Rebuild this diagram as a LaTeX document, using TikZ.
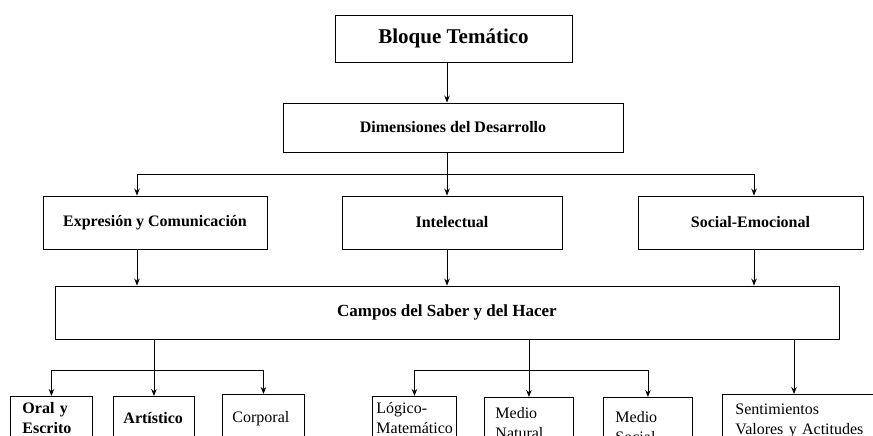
\documentclass[tikz,border=0pt]{standalone}
\usepackage{fontspec}
\setmainfont{Liberation Serif}
\usetikzlibrary{positioning,arrows.meta}

\begin{document}
\begin{tikzpicture}[x=1pt,y=-1pt,line width=0.9pt,
  >={Stealth[length=7pt,width=5.5pt]},
  box/.style={draw,inner sep=0pt,align=center,font=\bfseries\fontsize{16}{19}\selectfont},
  leaf/.style={draw,anchor=north west,align=left,inner xsep=10pt,text height=11pt,font=\fontsize{16}{20}\selectfont}]

\useasboundingbox (0,0) rectangle (873,436);
\clip (0,0) rectangle (873,436);

\node (1) [box,minimum width=237pt,minimum height=47pt,font=\bfseries\fontsize{21}{25}\selectfont] at (453.5,38.5) {Bloque Temático};
\node (2) [box,minimum width=340pt,minimum height=49pt] at (453,127.5) {Dimensiones del Desarrollo};

\node (3) [box,minimum width=224pt,minimum height=53pt] at (155,222.5) {Expresión y Comunicación};
\node (4) [box,minimum width=220pt,minimum height=53pt] at (452,222.5) {Intelectual};
\node (5) [box,minimum width=225pt,minimum height=53pt] at (750.5,222.5) {Social-Emocional};

\node (6) [box,minimum width=784pt,minimum height=53pt,font=\bfseries\fontsize{17}{20}\selectfont] at (447,312.5) {Campos del Saber y del Hacer};

\node (7) [leaf,text width=58pt,inner xsep=12pt,inner ysep=6pt,font=\bfseries\fontsize{16}{20}\selectfont] at (10,396) {Oral y\\Escrito};
\node (8) [leaf,text width=61pt,inner ysep=16pt,font=\bfseries\fontsize{16}{20}\selectfont] at (113,396) {Artístico};
\node (9) [leaf,text width=62pt,inner ysep=17pt] at (222,394) {Corporal};

\node (10) [leaf,text width=76pt,inner xsep=4pt,inner ysep=6pt] at (372,396) {Lógico-\\Matemático};
\node (11) [leaf,text width=67pt,inner xsep=11pt,inner ysep=10pt] at (484,397) {Medio\\Natural};
\node (12) [leaf,text width=65pt,inner xsep=12pt,inner ysep=14pt] at (603,397) {Medio\\Social};
\node (13) [leaf,text width=160pt,inner xsep=13pt,inner ysep=9pt] at (722,394) {Sentimientos\\Valores y Actitudes};

% taps on the buses
\coordinate (a) at (137,174);
\coordinate (b) at (447,174);
\coordinate (c) at (754,174);
\coordinate (d) at (153,370);
\coordinate (e) at (526,370);
\coordinate (f) at (794,370);

\draw (a) -- (c);
\draw (7.north |- d) -- (9.north |- d);
\draw (10.north |- e) -- (12.north |- e);

\path[->]
(1.south -| b) edge (b |- 2.north)
(2.south -| b) edge[-] (b)
(a) edge (a |- 3.north)
(b) edge (b |- 4.north)
(c) edge (c |- 5.north);

\path[->]
(3.south -| a) edge (a |- 6.north)
(4.south -| b) edge (b |- 6.north)
(5.south -| c) edge (c |- 6.north);

\path[->]
(6.south -| 8.north) edge (8.north)
(7.north |- d) edge (7.north)
(9.north |- d) edge (9.north)
(6.south -| 11.north) edge (11.north)
(10.north |- e) edge (10.north)
(12.north |- e) edge (12.north)
(6.south -| f) edge (f |- 13.north);

\end{tikzpicture}
\end{document}
